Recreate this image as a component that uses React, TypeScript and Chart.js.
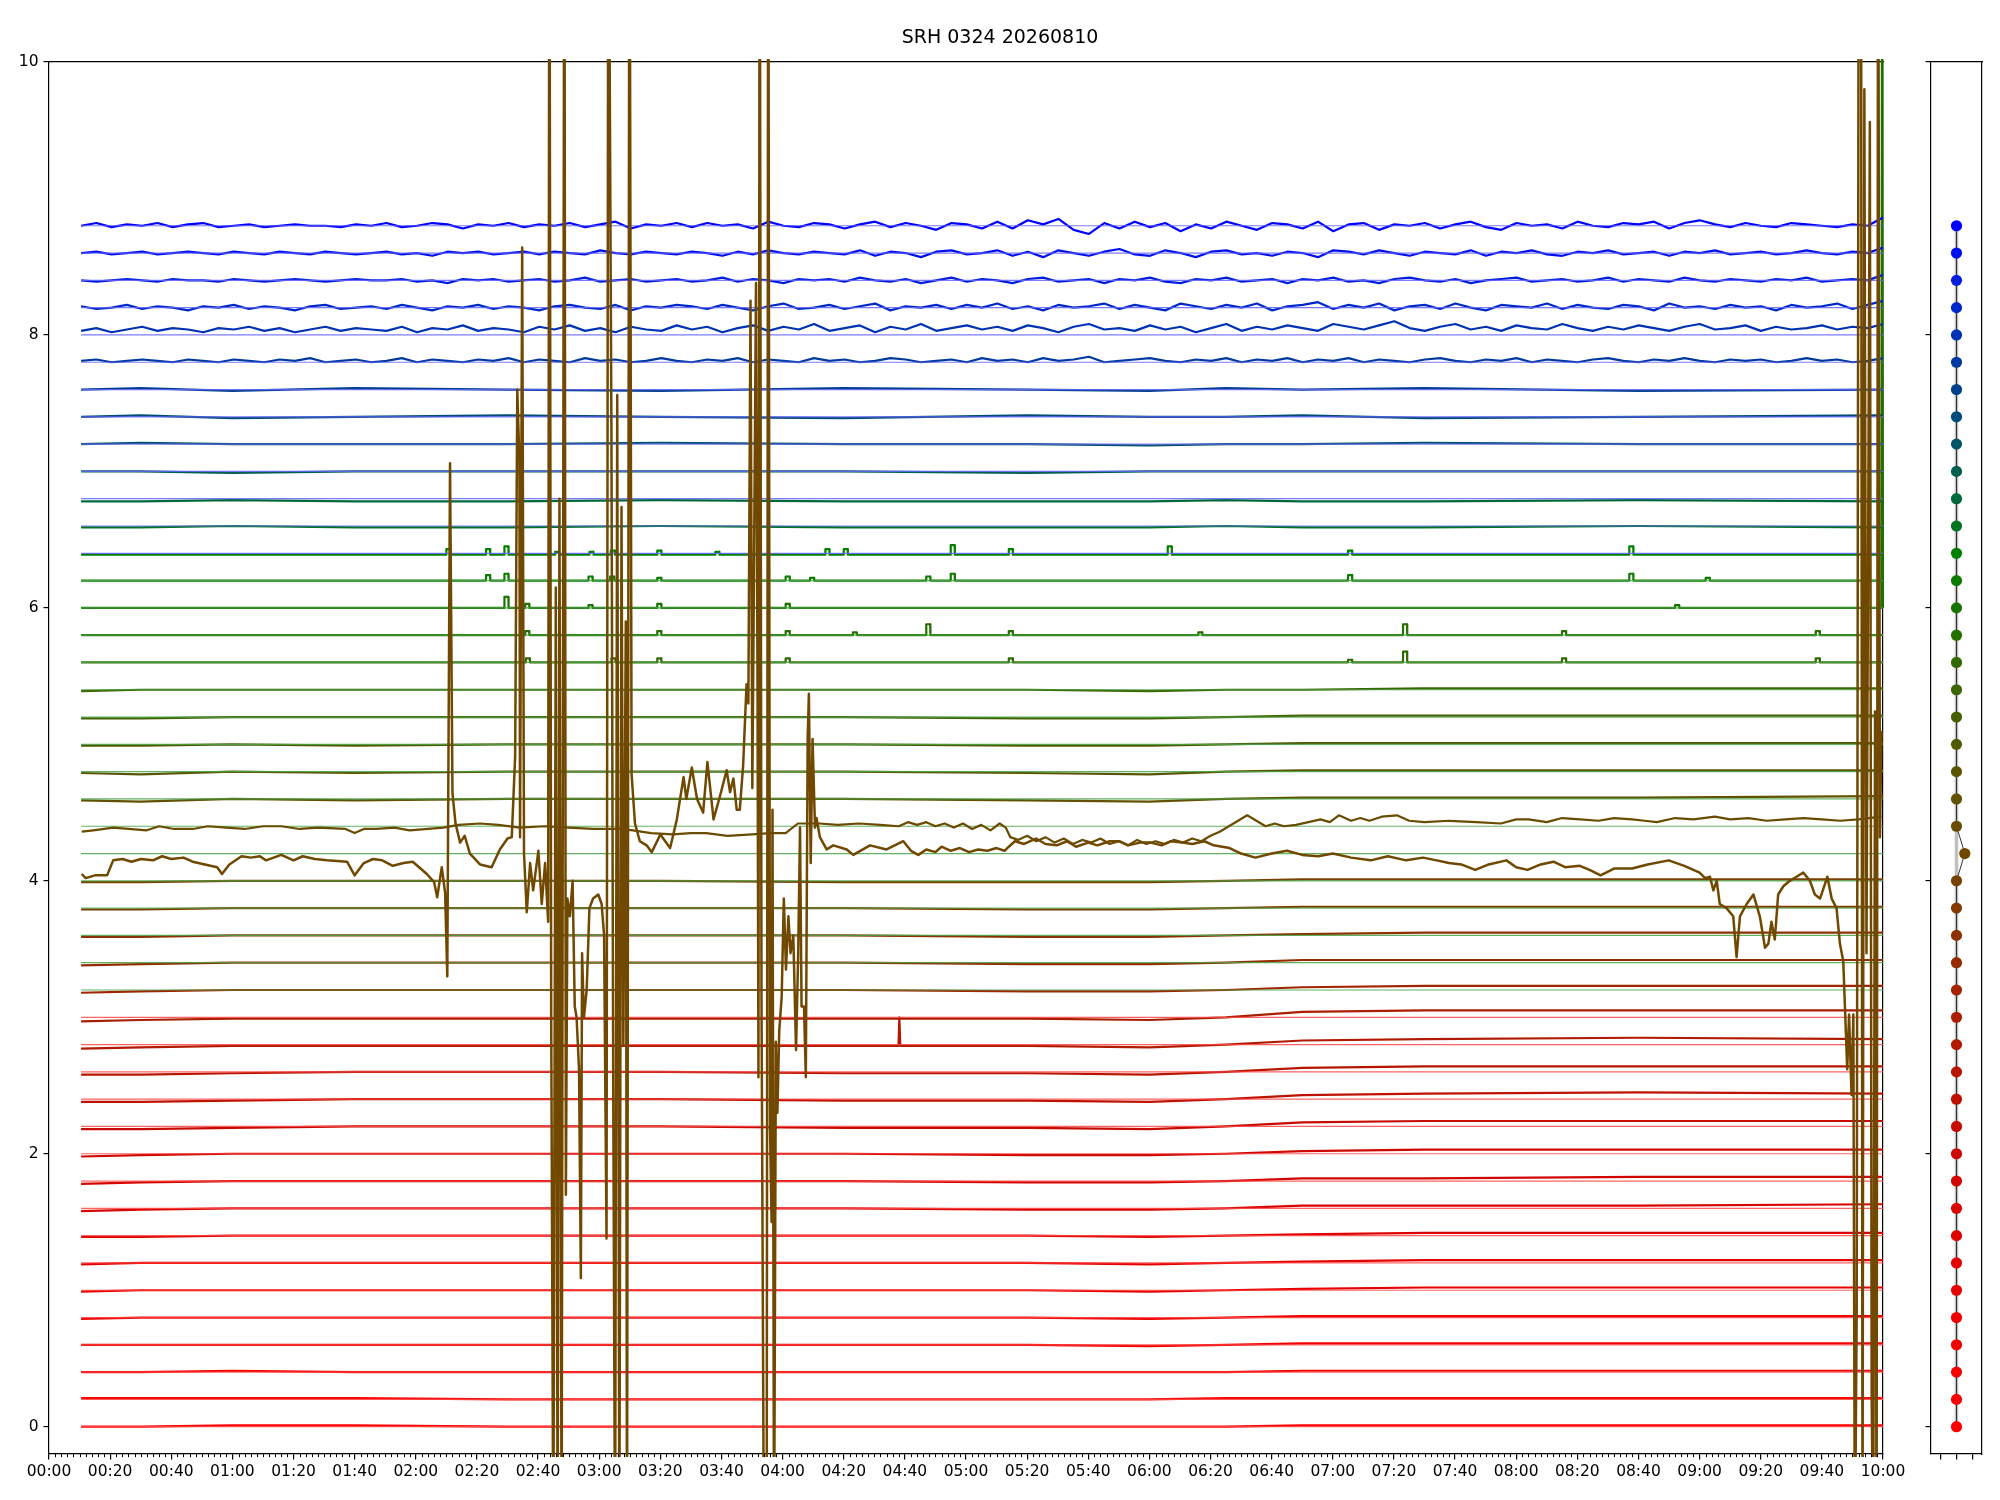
import React, { useEffect, useRef } from 'react';
import { Chart, registerables } from 'chart.js';

Chart.register(...registerables);

const FONT = 'DejaVu Sans';
const TITLE = 'SRH 0324 20260810';

// channel baselines (bottom -> top)
const channels = [
  0, 0.2, 0.4, 0.6, 0.8, 1.0, 1.2, 1.4, 1.6, 1.8,
  2.0, 2.2, 2.4, 2.6, 2.8, 3.0, 3.2, 3.4, 3.6, 3.8,
  4.0, 4.2, 4.4, 4.6, 4.8, 5.0, 5.2, 5.4, 5.6, 5.8,
  6.0, 6.2, 6.4, 6.6, 6.8, 7.0, 7.2, 7.4, 7.6, 7.8,
  8.0, 8.2, 8.4, 8.6, 8.8,
];

const xTickLabels = [
  '00:00', '00:20', '00:40', '01:00', '01:20', '01:40', '02:00', '02:20', '02:40', '03:00',
  '03:20', '03:40', '04:00', '04:20', '04:40', '05:00', '05:20', '05:40', '06:00', '06:20',
  '06:40', '07:00', '07:20', '07:40', '08:00', '08:20', '08:40', '09:00', '09:20', '09:40', '10:00',
];
const minorTickStep = 2; // minutes
const yTickValues = [0, 2, 4, 6, 8, 10];
const panelXTicks = [-1, 0, 1];
const panelYTicks = [0, 2, 4, 6, 8, 10];

const refStart = 10.5;
const refEnd = 600;

// knot times (minutes) for the quiet channels, offsets in hundredths
const driftTimes = [10.5, 30, 60, 100, 150, 200, 260, 320, 360, 385, 410, 450, 520, 600];
const quietDrift: (number[] | null)[] = [
  /* 0.0 */ [0, 0, 1, 1, 0, 0, 0, 0, 0, 0, 1, 1, 1, 1],
  /* 0.2 */ [1, 1, 1, 1, 0, 0, 0, 0, 0, 1, 1, 1, 1, 1],
  /* 0.4 */ [0, 0, 1, 0, 0, 0, 0, 0, 0, 0, 1, 1, 1, 1],
  /* 0.6 */ [0, 0, 0, 0, 0, 0, 0, 0, -1, 0, 1, 1, 1, 1],
  /* 0.8 */ [-1, 0, 0, 0, 0, 0, 0, 0, -1, 0, 1, 1, 1, 1],
  /* 1.0 */ [-1, 0, 0, 0, 0, 0, 0, 0, -1, 0, 1, 2, 2, 2],
  /* 1.2 */ [-1, 0, 0, 0, 0, 0, 0, 0, -1, 0, 1, 2, 2, 2],
  /* 1.4 */ [-1, -1, 0, 0, 0, 0, 0, 0, -1, 0, 1, 2, 2, 2],
  /* 1.6 */ [-2, -1, 0, 0, 0, 0, 0, -1, -1, 0, 2, 2, 2, 3],
  /* 1.8 */ [-2, -1, 0, 0, 0, 0, 0, -1, -1, 0, 2, 2, 3, 3],
  /* 2.0 */ [-2, -1, 0, 0, 0, 0, 0, -1, -1, 0, 2, 3, 3, 3],
  /* 2.2 */ [-2, -2, -1, 0, 0, 0, -1, -1, -2, 0, 3, 4, 4, 4],
  /* 2.4 */ [-2, -2, -1, 0, 0, 0, -1, -1, -2, 0, 3, 4, 5, 4],
  /* 2.6 */ [-2, -2, -1, 0, 0, 0, -1, -1, -2, 0, 3, 4, 4, 4],
  /* 2.8 */ [-3, -2, -1, -1, -1, -1, -1, -1, -2, 0, 3, 4, 5, 4],
  /* 3.0 */ [-3, -2, -1, -1, -1, -1, -1, -1, -2, 0, 4, 5, 5, 5],
  /* 3.2 */ [-2, -1, 0, 0, 0, 0, 0, -1, -1, 0, 2, 3, 3, 3],
  /* 3.4 */ [-2, -1, 0, 0, 0, 0, 0, -1, -1, 0, 2, 2, 2, 2],
  /* 3.6 */ [-1, -1, 0, 0, 0, 0, 0, -1, -1, 0, 1, 2, 2, 2],
  /* 3.8 */ [-1, -1, 0, 0, 0, 0, 0, -1, -1, 0, 1, 1, 1, 1],
  /* 4.0 */ [-1, -1, 0, 0, 0, 0, -1, -1, -1, 0, 1, 1, 1, 1],
  /* 4.2 */ null,
  /* 4.4 */ null,
  /* 4.6 */ [-1, -2, 0, -1, 0, 0, 0, -1, -2, 0, 1, 1, 1, 2],
  /* 4.8 */ [-1, -2, 0, -1, 0, 0, 0, -1, -2, 0, 1, 1, 1, 1],
  /* 5.0 */ [-1, -1, 0, -1, 0, 0, 0, -1, -1, 0, 1, 1, 1, 1],
  /* 5.2 */ [-1, -1, 0, 0, 0, 0, 0, -1, -1, 0, 1, 1, 1, 1],
  /* 5.4 */ [-1, 0, 0, 0, 0, 0, 0, 0, -1, 0, 0, 1, 1, 1],
  /* 5.6 */ null,
  /* 5.8 */ null,
  /* 6.0 */ null,
  /* 6.2 */ null,
  /* 6.4 */ null,
  /* 6.6 */ [-1, -1, 0, -1, -1, 0, -1, -1, -1, 0, -1, -1, 0, -1],
  /* 6.8 */ [-2, -2, -1, -2, -2, -1, -2, -2, -2, -1, -2, -2, -1, -2],
  /* 7.0 */ [0, 0, -1, 0, 0, 0, 0, -1, 0, 0, 0, 0, 0, 0],
  /* 7.2 */ [0, 1, 0, 0, 0, 1, 0, 0, -1, 0, 0, 1, 0, 0],
  /* 7.4 */ [0, 1, -1, 0, 1, 0, -1, 1, 0, 0, 1, -1, 0, 1],
  /* 7.6 */ [0, 1, -1, 1, 0, -1, 1, 0, -1, 1, 0, 1, -1, 0],
  /* 7.8 */ null,
  /* 8.0 */ null,
  /* 8.2 */ null,
  /* 8.4 */ null,
  /* 8.6 */ null,
  /* 8.8 */ null,
];

// green channels with small pulses: level (hundredths) and pulse events [channel, minute, height (hundredths)]
const pulseChannels = [5.6, 5.8, 6.0, 6.2, 6.4];
const pulseLevels = [0, 0, 0, 0, -1];
const pulseEvents: [number, number, number][] = [
  [6.4, 130, 4], [6.4, 143, 4], [6.4, 149, 6], [6.4, 165.6, 2], [6.4, 176.8, 2], [6.4, 183.8, 3],
  [6.4, 199, 3], [6.4, 218, 2], [6.4, 254, 4], [6.4, 260, 4], [6.4, 295, 7], [6.4, 314, 4],
  [6.4, 366, 6], [6.4, 425, 3], [6.4, 517, 6],
  [6.2, 143, 4], [6.2, 149, 5], [6.2, 176.5, 3], [6.2, 183.6, 3], [6.2, 199, 2], [6.2, 241, 3],
  [6.2, 249, 2], [6.2, 287, 3], [6.2, 295, 5], [6.2, 425, 4], [6.2, 517, 5], [6.2, 542, 2],
  [6.0, 149, 8], [6.0, 155.8, 3], [6.0, 176.5, 2], [6.0, 199, 3], [6.0, 241, 3], [6.0, 532, 2],
  [5.8, 155.8, 3], [5.8, 199, 3], [5.8, 241, 3], [5.8, 263, 2], [5.8, 287, 8], [5.8, 314, 3],
  [5.8, 376, 2], [5.8, 443, 8], [5.8, 495, 3], [5.8, 578, 3],
  [5.6, 156, 3], [5.6, 184, 3], [5.6, 199, 3], [5.6, 241, 3], [5.6, 314, 3], [5.6, 425, 2],
  [5.6, 443, 8], [5.6, 495, 3], [5.6, 578, 3],
];
// single extra points [channel, minute, value]
const extraPoints: [number, number, number][] = [
  [6.0, 599.55, 6.0], [6.0, 599.7, 12],
  [2.8, 277.9, 2.79], [2.8, 278.2, 3.0], [2.8, 278.5, 2.79],
];

// noisy blue channels, offsets in hundredths, evenly sampled from 00:10:30 to 10:00
const blueStart = 10.5;
const w88 = [
  0, 2, -1, 1, 0, 2, -1, 1, 2, -1, 0, 1, -1, 0, 1, 0, 0, -1, 1, 0,
  2, -1, 0, 2, 1, -2, 1, 0, 2, -1, 1, 0, 2, -1, 1, 3, -2, 1, 0, 2,
  -1, 2, 0, 1, -2, 3, 0, -1, 2, 1, -2, 1, 3, -1, 2, 0, -3, 2, 1, -2,
  3, -2, 4, 1, 5, -3, -6, 2, -2, 3, -1, 2, -4, 1, -2, 3, 0, -3, 2, 1,
  -2, 3, -4, 1, 2, -3, 1, 0, 2, -2, 1, 3, -1, -3, 2, 0, 1, -2, 3, 0,
  -1, 2, 1, 3, -2, 2, 4, 1, -1, 2, 0, -1, 2, 1, 0, -1, 1, 0, 6,
];
const w86 = [
  0, 1, -1, 0, 1, -1, 0, 1, 0, -1, 1, 0, -1, 1, 0, -1, 1, 0, -1, 0,
  1, -1, 0, -2, 1, 0, 1, -1, 0, 1, -1, 1, 0, -1, 2, 0, -1, 1, 0, -1,
  1, 0, -2, 1, -1, 2, 0, -1, 1, 0, -1, 2, -2, 1, 0, -3, 1, 2, -1, 0,
  2, -2, 1, -3, 2, 0, -2, 1, 3, -1, -2, 2, 0, -3, 1, 2, -1, 0, -2, 1,
  0, -3, 2, 1, -1, 2, 0, -2, 1, 0, -1, 2, -2, 1, 0, 2, -1, -2, 1, 0,
  2, -1, 0, 1, -2, 1, 0, 2, -1, 0, 1, -1, 0, 2, 0, -1, 1, 0, 4,
];
const w84 = [
  0, -1, 0, 1, 0, -1, 1, 0, 0, -1, 1, 0, -1, 0, 1, 0, -1, 0, 1, 0,
  0, 1, -1, 0, -2, 1, 0, 1, -1, 0, 1, -1, 0, 2, -1, 0, 1, -1, 0, 1,
  -1, 0, 2, -1, 1, 0, -2, 1, 0, 1, -1, 2, 0, -1, 1, -2, 0, 2, -1, 1,
  0, -2, 1, 2, -1, 0, 1, -2, 1, 0, 2, -1, -2, 1, 0, 2, -1, 0, 1, -2,
  1, 0, 2, -1, 0, -2, 1, 2, 0, -1, 1, -2, 0, 1, 2, -1, 0, 1, -1, 0,
  2, -1, 1, 0, -1, 2, 0, -1, 1, 0, -1, 1, 0, 2, -1, 0, 1, 0, 4,
];
const w82 = [
  1, -1, 0, 2, -1, 1, 0, -2, 1, 0, 2, -1, 1, 0, -2, 1, 2, -1, 0, 1,
  -1, 2, 0, -2, 1, 0, 2, -1, 1, 0, -2, 1, 2, 0, -1, 2, -2, 1, 0, 2,
  1, -1, 2, 0, -2, 1, 3, -1, 0, 2, -1, 1, 3, -2, 1, 0, 2, -1, 2, 0,
  3, -1, 1, -2, 2, 0, 1, 3, -1, 2, 0, -2, 3, 1, -1, 2, 0, 3, -2, 1,
  2, 4, -1, 2, 0, 3, -2, 1, 2, -1, 3, 0, -2, 2, 1, 0, 3, -1, 2, 0,
  -1, 2, 1, -2, 3, 0, 1, -1, 2, 0, 1, -2, 2, 0, 1, 3, -1, 2, 5,
];
const w80 = [
  3, 5, 2, 4, 6, 3, 5, 4, 2, 5, 4, 6, 3, 5, 2, 4, 6, 3, 5, 4,
  3, 6, 2, 5, 4, 7, 3, 5, 4, 2, 6, 4, 7, 3, 5, 2, 6, 4, 3, 7,
  4, 6, 2, 5, 7, 3, 6, 4, 8, 3, 5, 7, 2, 6, 4, 8, 3, 5, 7, 4,
  6, 3, 7, 5, 2, 6, 8, 4, 5, 3, 7, 4, 6, 2, 5, 8, 3, 6, 4, 7,
  5, 3, 8, 6, 4, 7, 10, 5, 3, 6, 8, 4, 6, 3, 7, 5, 4, 8, 5, 3,
  6, 4, 7, 5, 3, 6, 8, 4, 5, 7, 3, 6, 4, 5, 7, 4, 6, 5, 8,
];
const w78 = [
  1, 2, 0, 1, 2, 1, 0, 2, 1, 0, 2, 1, 0, 2, 1, 3, 0, 1, 2, 0,
  1, 3, 0, 2, 1, 0, 2, 1, 3, 0, 2, 1, 0, 3, 1, 2, 0, 1, 3, 1,
  0, 2, 1, 3, 0, 2, 1, 0, 3, 1, 2, 0, 1, 3, 2, 0, 1, 2, 0, 3,
  1, 2, 0, 3, 1, 2, 4, 0, 1, 2, 3, 1, 0, 2, 1, 3, 0, 2, 1, 3,
  0, 2, 1, 3, 0, 2, 1, 0, 2, 3, 1, 0, 2, 1, 3, 0, 2, 1, 0, 2,
  3, 1, 0, 2, 1, 3, 1, 0, 2, 1, 2, 0, 1, 3, 1, 2, 0, 1, 3,
];
const blueChannels = [8.8, 8.6, 8.4, 8.2, 8.0, 7.8];
const blueWiggles = [w88, w86, w84, w82, w80, w78];

// channel 4.2: the disturbed trace [minute, value]
const ch42Trace: [number, number][] = [
  [10.7, 4.05], [12, 4.02], [15, 4.04], [19, 4.04], [21, 4.15], [24, 4.16], [27, 4.14], [30, 4.16],
  [34, 4.15], [37, 4.18], [40, 4.16], [44, 4.17], [47, 4.14], [51, 4.12], [55, 4.1], [56.6, 4.05],
  [59, 4.12], [63, 4.18], [66, 4.17], [69, 4.18], [71, 4.15], [76, 4.19], [80, 4.15], [83, 4.18],
  [87, 4.16], [91, 4.15], [97.5, 4.14], [100, 4.04], [103, 4.13], [106, 4.16], [109, 4.15],
  [112.5, 4.11], [116, 4.13], [119, 4.14], [123.6, 4.05], [126, 3.99], [127, 3.88], [128.5, 4.1],
  [129.6, 3.91], [130.3, 3.3], [131.2, 7.06], [132, 4.64], [133, 4.42], [134.5, 4.28], [136, 4.33],
  [137.7, 4.2], [141, 4.12], [144.8, 4.1], [147.5, 4.23], [150, 4.31], [151.4, 4.32], [152.5, 4.91],
  [153.2, 7.6], [153.9, 7.07], [154.1, 4.32], [154.8, 8.64], [155.4, 4.2], [156.3, 3.77],
  [157.4, 4.13], [158.4, 3.93], [160.1, 4.22], [161.2, 3.83], [162.3, 4.13], [163.3, 3.7],
  [163.7, 12], [164.3, 3.0], [165, -1], [165.8, 6.15], [166.4, -1], [167, 6.8], [167.7, -1],
  [168.6, 12], [169.1, 1.7], [169.6, 3.87], [170.4, 3.74], [171.3, 4.0], [172, 3.08], [172.6, 3.0],
  [173.4, 2.62], [174, 1.09], [174.4, 3.47], [175, 3.0], [175.9, 3.2], [176.8, 3.8], [178, 3.87],
  [179.7, 3.9], [180.8, 3.83], [181.6, 3.6], [182.4, 1.38], [183, 12], [184, 7.3], [184.6, 2.43],
  [185.2, -1], [185.9, 7.56], [186.6, -1], [187.3, 6.74], [187.9, 2.8], [188.7, 5.9], [189.1, -1],
  [189.9, 12], [190.6, 4.78], [191.7, 4.42], [193.3, 4.29], [195.5, 4.26], [197.2, 4.21], [200, 4.34],
  [203.2, 4.24], [205.4, 4.45], [207.6, 4.76], [208.5, 4.6], [210.3, 4.83], [212, 4.6], [214, 4.5],
  [215.4, 4.87], [217.4, 4.45], [219.5, 4.62], [221.7, 4.81], [222.8, 4.65], [223.9, 4.75],
  [225, 4.52], [226, 4.52], [227.1, 4.85], [228.2, 5.44], [228.8, 5.3], [229.5, 8.25], [230.1, 4.68],
  [230.6, 6.16], [231.3, 8.38], [231.8, 5.4], [232.1, 2.56], [232.5, 12], [233.1, 3.15], [233.9, -1],
  [234.8, -1], [235.3, 12], [235.9, 2.17], [236.4, 1.5], [236.7, 4.52], [237.2, -1], [237.8, 2.82],
  [238.3, 2.3], [238.9, 2.9], [239.7, 3.15], [240.4, 3.87], [241.1, 3.35], [241.9, 3.74],
  [242.6, 3.47], [243.5, 3.6], [244.4, 2.76], [245.1, 3.47], [245.7, 4.39], [246.2, 3.08], [247, 3.08],
  [247.6, 2.56], [248.2, 5.04], [248.6, 5.37], [249.2, 4.13], [249.8, 5.04], [250.6, 4.39],
  [251.1, 4.46], [252.2, 4.32], [254.4, 4.23], [256.6, 4.26], [261, 4.23], [263.1, 4.19],
  [268.6, 4.26], [274, 4.23], [279.5, 4.29], [282, 4.22], [284.4, 4.19], [287, 4.23], [290, 4.21],
  [292, 4.25], [295, 4.22], [298, 4.24], [301, 4.21], [304, 4.23], [307, 4.22], [310, 4.24],
  [312.6, 4.22], [314, 4.25], [316, 4.29], [319, 4.27], [322.9, 4.31], [326, 4.27], [329.7, 4.26],
  [333, 4.29], [336, 4.25], [340, 4.28], [343, 4.26], [347, 4.29], [350.2, 4.29], [353, 4.26],
  [357, 4.28], [360.5, 4.28], [364, 4.26], [367, 4.29], [370.8, 4.28], [374, 4.27], [378, 4.29],
  [381, 4.26], [386.2, 4.24], [390, 4.2], [394.7, 4.17], [400, 4.2], [405, 4.22], [410, 4.19],
  [415.2, 4.18], [420, 4.2], [426, 4.17], [432.4, 4.15], [438, 4.18], [444, 4.15], [449.5, 4.17],
  [454, 4.15], [458, 4.13], [462, 4.12], [466.6, 4.08], [471, 4.12], [476.8, 4.15], [480, 4.1],
  [483.7, 4.08], [488, 4.12], [492.2, 4.14], [496, 4.1], [500.8, 4.11], [504, 4.08], [507.6, 4.04],
  [512, 4.09], [517.9, 4.09], [523, 4.12], [529.9, 4.15], [535, 4.11], [540, 4.06], [541.8, 4.02],
  [543.4, 4.03], [544.5, 3.93], [545.6, 4.0], [546.6, 3.83], [548.8, 3.8], [551, 3.74], [552.1, 3.44],
  [553.2, 3.74], [555.4, 3.83], [557.6, 3.9], [559.7, 3.74], [561.4, 3.51], [562.5, 3.54],
  [563.5, 3.7], [564.6, 3.57], [565.7, 3.9], [567.4, 3.96], [569.5, 4.0], [571.7, 4.03], [573.9, 4.06],
  [576.1, 4.0], [577.7, 3.9], [579.4, 3.87], [581.8, 4.03], [583.2, 3.87], [584.8, 3.8], [585.9, 3.54],
  [587, 3.41], [588.3, 2.62], [588.9, 3.02], [589.7, 2.43], [590.3, 3.02], [590.8, -1], [591.4, 0.86],
  [592.1, 12], [592.8, 12], [593.3, -1], [593.9, 9.8], [594.6, 3.47], [595.7, 9.56], [596.3, 0.2],
  [596.8, -1], [597.4, 5.24], [597.9, -1], [598.4, 12], [599, 4.32], [599.5, 5.1],
];

// channel 4.4: the slowly wandering trace [minute, value]
const ch44Trace: [number, number][] = [
  [10.7, 4.36], [14.5, 4.37], [21, 4.39], [26, 4.38], [32, 4.37], [36, 4.4], [41, 4.38], [47, 4.38],
  [52, 4.4], [58, 4.39], [64, 4.38], [70, 4.4], [76, 4.4], [82, 4.38], [88, 4.39], [97, 4.38],
  [100, 4.35], [103, 4.38], [107, 4.38], [113, 4.39], [118, 4.37], [124, 4.38], [129, 4.39],
  [134, 4.41], [141, 4.42], [147, 4.41], [154, 4.39], [162, 4.4], [170, 4.39], [178, 4.38],
  [187, 4.38], [191, 4.37], [197, 4.35], [204, 4.34], [210, 4.35], [215, 4.35], [222, 4.33],
  [230, 4.34], [236, 4.35], [241, 4.35], [245, 4.42], [252, 4.42], [258, 4.41], [265, 4.42],
  [272, 4.41], [278, 4.4], [281, 4.43], [284, 4.41], [287, 4.43], [290, 4.4], [293, 4.42],
  [296, 4.39], [299, 4.42], [302, 4.38], [305, 4.41], [308, 4.37], [311, 4.42], [313, 4.39],
  [314.5, 4.32], [317, 4.3], [320, 4.33], [323, 4.29], [326, 4.32], [329, 4.28], [332, 4.31],
  [335, 4.27], [338, 4.3], [341, 4.28], [344, 4.31], [347, 4.27], [350, 4.29], [353, 4.26],
  [356, 4.3], [359, 4.27], [362, 4.29], [365, 4.27], [368, 4.3], [371, 4.28], [374, 4.31],
  [377, 4.29], [380, 4.33], [383, 4.36], [386, 4.4], [389, 4.44], [392, 4.48], [395, 4.44],
  [398, 4.4], [401, 4.42], [404, 4.4], [408, 4.41], [412, 4.43], [416, 4.45], [419, 4.43],
  [422, 4.48], [426, 4.44], [429, 4.46], [432, 4.44], [436, 4.47], [441, 4.48], [445, 4.44],
  [450, 4.43], [458, 4.44], [467, 4.43], [475, 4.42], [480, 4.45], [484, 4.45], [490, 4.43],
  [495, 4.46], [501, 4.45], [507, 4.44], [512, 4.46], [518, 4.45], [522, 4.44], [526, 4.43],
  [532, 4.46], [538, 4.45], [545, 4.47], [550, 4.45], [556, 4.46], [562, 4.44], [568, 4.45],
  [574, 4.46], [580, 4.45], [586, 4.44], [592, 4.45], [599.5, 4.47],
];

// side panel: horizontal offset of each channel's dot (all on 0 except the disturbed channel)
const outlierChannel = 4.2;
const outlierOffset = 0.52;

// ---------- styles ----------
const colorStops: [number, number, number, number][] = [
  [0.0, 255, 0, 0], [1.0, 232, 0, 0], [2.0, 205, 8, 0], [3.0, 170, 30, 0], [3.6, 140, 50, 0],
  [4.2, 112, 72, 0], [4.8, 90, 85, 0], [5.4, 60, 100, 0], [6.0, 25, 115, 0], [6.4, 0, 128, 0],
  [6.8, 0, 105, 60], [7.2, 0, 85, 100], [7.6, 0, 65, 140], [8.0, 0, 50, 180], [8.4, 0, 30, 220],
  [8.8, 0, 0, 255],
];

function colorFor(v: number): string {
  for (let k = 0; k < colorStops.length - 1; k++) {
    const [v0, r0, g0, b0] = colorStops[k];
    const [v1, r1, g1, b1] = colorStops[k + 1];
    if (v <= v1 + 1e-9) {
      const f = Math.max(0, Math.min(1, (v - v0) / (v1 - v0)));
      return `rgb(${Math.round(r0 + (r1 - r0) * f)},${Math.round(g0 + (g1 - g0) * f)},${Math.round(b0 + (b1 - b0) * f)})`;
    }
  }
  return 'rgb(0,0,255)';
}

function refColor(v: number): string {
  if (v <= 3.05) return 'rgba(255,70,70,0.85)';
  if (v <= 6.25) return 'rgba(70,165,70,0.85)';
  return 'rgba(100,100,255,0.85)';
}

type Pt = { x: number; y: number };

function channelPoints(i: number): Pt[] {
  const c = channels[i];
  if (c === 4.2) return ch42Trace.map(([t, v]) => ({ x: t, y: v }));
  if (c === 4.4) return ch44Trace.map(([t, v]) => ({ x: t, y: v }));
  const bi = blueChannels.indexOf(c);
  if (bi >= 0) {
    const w = blueWiggles[bi];
    const n = w.length;
    return w.map((d, k) => ({ x: blueStart + (k * (refEnd - blueStart)) / (n - 1), y: c + d / 100 }));
  }
  let pts: Pt[] = [];
  const pi = pulseChannels.indexOf(c);
  if (pi >= 0) {
    const base = c + pulseLevels[pi] / 100;
    pts.push({ x: refStart, y: base }, { x: refEnd, y: base });
    pulseEvents
      .filter((e) => e[0] === c)
      .forEach(([, t, h]) => {
        pts.push(
          { x: t - 0.05, y: base },
          { x: t, y: base + h / 100 },
          { x: t + 1.3, y: base + h / 100 },
          { x: t + 1.35, y: base },
        );
      });
  } else {
    const row = quietDrift[i] || [];
    pts = driftTimes.map((t, k) => ({ x: t, y: c + (row[k] || 0) / 100 }));
  }
  extraPoints.filter((e) => e[0] === c).forEach(([, t, v]) => pts.push({ x: t, y: v }));
  pts.sort((a, b) => a.x - b.x);
  return pts;
}

const xTickMinutes = xTickLabels.map((l) => {
  const [h, m] = l.split(':').map(Number);
  return h * 60 + m;
});

const tickFont = { family: FONT, size: 15.5 };

const minorTickPlugin = {
  id: 'minorTicks',
  afterDraw(chart: any) {
    const xs = chart.scales.x;
    const ctx = chart.ctx;
    const bottom = chart.chartArea.bottom;
    ctx.save();
    ctx.strokeStyle = '#000';
    ctx.lineWidth = 1;
    for (let m = 0; m <= 600; m += minorTickStep) {
      if (xTickMinutes.indexOf(m) >= 0) continue;
      const px = Math.round(xs.getPixelForValue(m)) + 0.5;
      ctx.beginPath();
      ctx.moveTo(px, bottom);
      ctx.lineTo(px, bottom + 3.2);
      ctx.stroke();
    }
    ctx.restore();
  },
};

function mainConfig(): any {
  const lineStyle = { pointRadius: 0, pointHitRadius: 0, fill: false, tension: 0, borderJoinStyle: 'round', clip: 3 };
  const dataSets = channels.map((c, i) => ({
    ...lineStyle,
    data: channelPoints(i),
    borderColor: colorFor(c),
    borderWidth: c === 4.2 ? 2.5 : 2.2,
  }));
  const refSets = channels.map((c) => ({
    ...lineStyle,
    data: [{ x: refStart, y: c }, { x: refEnd, y: c }],
    borderColor: refColor(c),
    borderWidth: 1.2,
  }));
  const iA = channels.indexOf(4.2);
  const iB = channels.indexOf(4.4);
  const others = dataSets.filter((_, i) => i !== iA && i !== iB).reverse();
  // first dataset is drawn on top
  const datasets = [dataSets[iA], dataSets[iB], ...refSets, ...others];

  const axisCommon = {
    grid: { drawOnChartArea: false, drawTicks: true, tickLength: 5.5, color: '#000', lineWidth: 1.2 },
    border: { display: true, color: '#000', width: 1.2 },
  };
  const hiddenAxis = {
    ticks: { display: false },
    grid: { drawOnChartArea: false, drawTicks: false },
    border: { display: true, color: '#000', width: 1.2 },
  };

  return {
    type: 'line',
    data: { datasets },
    options: {
      animation: false,
      responsive: false,
      devicePixelRatio: 1,
      events: [],
      layout: { padding: 0 },
      plugins: {
        legend: { display: false },
        tooltip: { enabled: false },
        title: {
          display: true,
          text: TITLE,
          color: '#000',
          font: { family: FONT, size: 19, weight: 'normal', lineHeight: 1.2 },
          padding: { top: 26.6, bottom: 12.6 },
        },
      },
      scales: {
        x: {
          type: 'linear',
          position: 'bottom',
          min: 0,
          max: 600,
          afterFit: (s: any) => { s.height = 46; },
          afterBuildTicks: (s: any) => { s.ticks = xTickMinutes.map((v) => ({ value: v })); },
          ticks: {
            autoSkip: false,
            maxRotation: 0,
            minRotation: 0,
            padding: 3,
            color: '#000',
            font: tickFont,
            callback: (v: any) => {
              const k = xTickMinutes.indexOf(Number(v));
              return k >= 0 ? xTickLabels[k] : '';
            },
          },
          ...axisCommon,
        },
        y: {
          type: 'linear',
          position: 'left',
          min: -0.2,
          max: 10,
          afterFit: (s: any) => { s.width = 49; },
          afterBuildTicks: (s: any) => { s.ticks = yTickValues.map((v) => ({ value: v })); },
          ticks: { padding: 5, color: '#000', font: tickFont, callback: (v: any) => String(v) },
          ...axisCommon,
        },
        xTop: {
          type: 'linear',
          position: 'top',
          min: 0,
          max: 600,
          afterFit: (s: any) => { s.height = 0; },
          ...hiddenAxis,
        },
        yRight: {
          type: 'linear',
          position: 'right',
          min: -0.2,
          max: 10,
          afterFit: (s: any) => { s.width = 117; },
          ...hiddenAxis,
        },
      },
    },
    plugins: [minorTickPlugin],
  };
}

function panelConfig(): any {
  const dotData = channels.map((c) => ({ x: c === outlierChannel ? outlierOffset : 0, y: c }));
  const colors = channels.map(colorFor);
  const datasets = [
    {
      data: dotData,
      showLine: false,
      pointRadius: 5.6,
      pointBackgroundColor: colors,
      pointBorderColor: colors,
      pointBorderWidth: 0,
      pointHitRadius: 0,
    },
    {
      data: dotData,
      borderColor: '#333',
      borderWidth: 1,
      pointRadius: 0,
      tension: 0,
      fill: false,
    },
    {
      data: [{ x: 0, y: channels[0] }, { x: 0, y: channels[channels.length - 1] }],
      borderColor: 'rgba(150,150,150,0.6)',
      borderWidth: 3.5,
      pointRadius: 0,
      fill: false,
    },
  ];
  const axisCommon = {
    grid: { drawOnChartArea: false, drawTicks: true, tickLength: 5.5, color: '#000', lineWidth: 1.2 },
    border: { display: true, color: '#000', width: 1.2 },
  };
  const hiddenAxis = {
    ticks: { display: false },
    grid: { drawOnChartArea: false, drawTicks: false },
    border: { display: true, color: '#000', width: 1.2 },
  };
  return {
    type: 'line',
    data: { datasets },
    options: {
      animation: false,
      responsive: false,
      devicePixelRatio: 1,
      events: [],
      layout: { padding: { left: 1921, top: 62, right: 0, bottom: 0 } },
      plugins: { legend: { display: false }, tooltip: { enabled: false }, title: { display: false } },
      scales: {
        x: {
          type: 'linear',
          position: 'bottom',
          min: -1.6,
          max: 1.6,
          afterFit: (s: any) => { s.height = 46; },
          afterBuildTicks: (s: any) => { s.ticks = panelXTicks.map((v) => ({ value: v })); },
          ticks: { autoSkip: false, maxRotation: 0, callback: () => '', font: tickFont },
          ...axisCommon,
        },
        y: {
          type: 'linear',
          position: 'left',
          min: -0.2,
          max: 10,
          afterFit: (s: any) => { s.width = 10; },
          afterBuildTicks: (s: any) => { s.ticks = panelYTicks.map((v) => ({ value: v })); },
          ticks: { callback: () => '', font: tickFont },
          ...axisCommon,
        },
        xTop: {
          type: 'linear',
          position: 'top',
          min: -1.6,
          max: 1.6,
          afterFit: (s: any) => { s.height = 0; },
          ...hiddenAxis,
        },
        yRight: {
          type: 'linear',
          position: 'right',
          min: -0.2,
          max: 10,
          afterFit: (s: any) => { s.width = 18; },
          ...hiddenAxis,
        },
      },
    },
  };
}

export default function App() {
  const mainRef = useRef<HTMLCanvasElement>(null);
  const panelRef = useRef<HTMLCanvasElement>(null);
  useEffect(() => {
    const main = new Chart(mainRef.current as HTMLCanvasElement, mainConfig());
    const panel = new Chart(panelRef.current as HTMLCanvasElement, panelConfig());
    return () => {
      main.destroy();
      panel.destroy();
    };
  }, []);
  return (
    <div style={{ position: 'absolute', left: 0, top: 0, width: 2000, height: 1500, background: '#fff' }}>
      <canvas ref={mainRef} width={2000} height={1500} style={{ position: 'absolute', left: 0, top: 0 }} />
      <canvas ref={panelRef} width={2000} height={1500} style={{ position: 'absolute', left: 0, top: 0 }} />
    </div>
  );
}
